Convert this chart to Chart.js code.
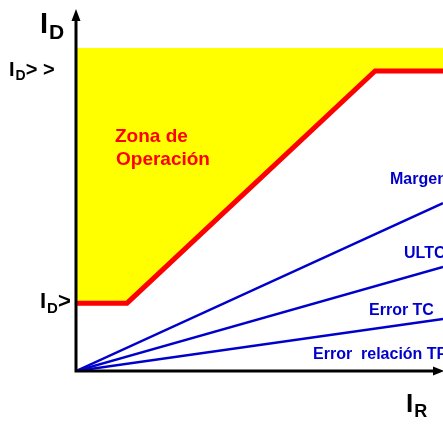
<!DOCTYPE html>
<html>
<head>
<meta charset="utf-8">
<script src="https://cdn.jsdelivr.net/npm/chart.js@4.4.0/dist/chart.umd.min.js"></script>
<style>
  html, body { margin: 0; padding: 0; background: #ffffff; }
  #wrap { width: 443px; height: 426px; position: relative; }
</style>
</head>
<body>
<div id="wrap"><canvas id="c"></canvas></div>
<script>
// Característica de operación del relé diferencial (I_D vs I_R)

// límite superior de la zona amarilla
const zoneTopX = [0.3, 100];
const zoneTopY = [89.5, 89.5];

// curva de disparo (roja)
const limitX = [0.3, 13.9, 81.5, 100];
const limitY = [18.8, 18.8, 83.1, 83.1];

// rectas de error desde el origen (azules)
const errorNames = ['Margen', 'ULTC', 'Error TC'];
const errorEndX = [100, 100, 100];
const errorEndY = [46.5, 28.8, 14.4];

// línea punteada tenue a la altura de I_D>>
const guideX = [0.3, 81.5];
const guideY = [83.1, 83.1];

const BLUE = '#0000cc';
const RED = '#ff0000';
const YELLOW = '#ffff00';

function pts(xs, ys) {
  return xs.map((x, i) => ({ x, y: ys[i] }));
}

const errorSets = errorNames.map((name, i) => ({
  label: name,
  data: [{ x: 0, y: 0 }, { x: errorEndX[i], y: errorEndY[i] }],
  borderColor: BLUE,
  borderWidth: 2.5,
  pointRadius: 0,
  order: 3,
}));

// ejes con flecha + textos
const annotations = {
  id: 'annotations',
  afterDraw(chart) {
    const { ctx, scales } = chart;
    const x0 = scales.x.getPixelForValue(0);
    const y0 = scales.y.getPixelForValue(0);
    const yTop = chart.chartArea.top;
    const xEnd = chart.width;

    ctx.save();
    ctx.strokeStyle = '#000';
    ctx.fillStyle = '#000';
    ctx.lineWidth = 3;
    ctx.beginPath();
    ctx.moveTo(x0, y0);
    ctx.lineTo(x0, yTop + 8);
    ctx.moveTo(x0 - 1.5, y0);
    ctx.lineTo(xEnd - 6, y0);
    ctx.stroke();
    // flecha eje Y
    ctx.beginPath();
    ctx.moveTo(x0, yTop - 1);
    ctx.lineTo(x0 - 4.5, yTop + 11);
    ctx.lineTo(x0 + 4.5, yTop + 11);
    ctx.closePath();
    ctx.fill();
    // flecha eje X
    ctx.beginPath();
    ctx.moveTo(xEnd + 1, y0);
    ctx.lineTo(xEnd - 10, y0 - 4.5);
    ctx.lineTo(xEnd - 10, y0 + 4.5);
    ctx.closePath();
    ctx.fill();

    // etiquetas con subíndice
    const sub = (main, s, tail, x, y, big, small) => {
      ctx.font = 'bold ' + big + 'px "Liberation Sans", Arial, sans-serif';
      ctx.fillText(main, x, y);
      let w = ctx.measureText(main).width;
      ctx.font = 'bold ' + small + 'px "Liberation Sans", Arial, sans-serif';
      ctx.fillText(s, x + w + 1, y + small * 0.3);
      w += ctx.measureText(s).width + 1;
      if (tail) {
        ctx.font = 'bold ' + big + 'px "Liberation Sans", Arial, sans-serif';
        ctx.fillText(tail, x + w, y);
      }
    };
    ctx.fillStyle = '#000';
    ctx.textBaseline = 'alphabetic';
    sub('I', 'D', '', 40, 33, 29, 21);
    sub('I', 'D', '> >', 9, 76, 20, 14);
    sub('I', 'D', '>', 40, 308, 22, 15);
    sub('I', 'R', '', 406, 412, 26, 18);

    ctx.fillStyle = RED;
    ctx.font = 'bold 19px "Liberation Sans", Arial, sans-serif';
    ctx.fillText('Zona de', 115, 142);
    ctx.fillText('Operación', 116, 165);

    ctx.fillStyle = BLUE;
    ctx.font = 'bold 16px "Liberation Sans", Arial, sans-serif';
    ctx.fillText('Margen', 390, 184);
    ctx.fillText('ULTC', 404, 258);
    ctx.fillText('Error TC', 369, 315);
    ctx.fillText('Error  relación TP', 313, 359);
    ctx.restore();
  },
};

new Chart(document.getElementById('c'), {
  type: 'line',
  data: {
    datasets: [
      {
        label: 'zona',
        data: pts(zoneTopX, zoneTopY),
        borderWidth: 0,
        borderColor: YELLOW,
        pointRadius: 0,
        order: 5,
      },
      {
        label: 'límite',
        data: pts(limitX, limitY),
        borderColor: RED,
        borderWidth: 5,
        pointRadius: 0,
        fill: { target: 0 },
        backgroundColor: YELLOW,
        order: 1,
      },
      {
        label: 'guía',
        data: pts(guideX, guideY),
        borderColor: 'rgba(255,255,255,0.75)',
        borderWidth: 1,
        borderDash: [3, 2],
        pointRadius: 0,
        order: 2,
      },
      ...errorSets,
    ],
  },
  options: {
    responsive: true,
    maintainAspectRatio: false,
    animation: false,
    parsing: true,
    layout: { padding: { left: 76, right: 0, top: 10, bottom: 55 } },
    plugins: { legend: { display: false }, tooltip: { enabled: false } },
    scales: {
      x: { type: 'linear', min: 0, max: 100, display: false },
      y: { type: 'linear', min: 0, max: 100, display: false },
    },
  },
  plugins: [annotations],
});
</script>
</body>
</html>
